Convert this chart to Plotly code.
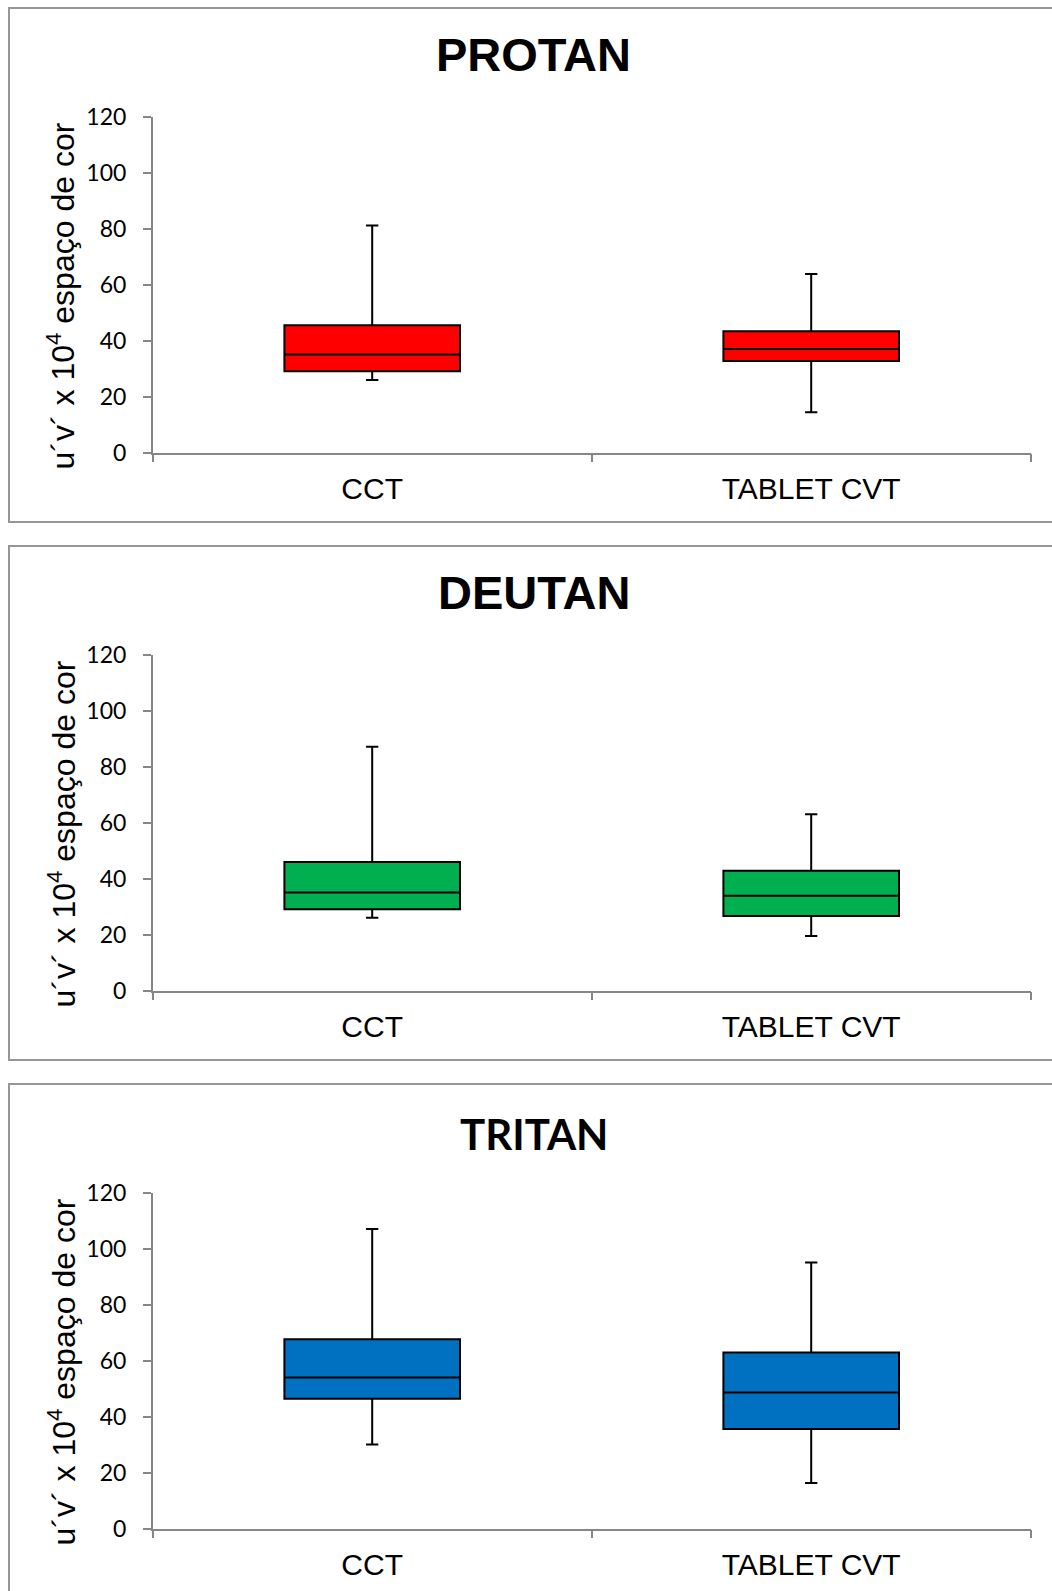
import plotly.graph_objects as go

# Categories and box statistics (u'v' x 10^4) for each deficiency type
categories = ["CCT", "TABLET CVT"]
panel_titles = ["PROTAN", "DEUTAN", "TRITAN"]
fill_colors = ["#FF0000", "#00B050", "#0070C0"]

protan_low = [25.9, 14.4]
protan_q1 = [29.0, 32.7]
protan_med = [35.0, 37.0]
protan_q3 = [45.5, 43.3]
protan_high = [81.1, 63.8]

deutan_low = [26.0, 19.5]
deutan_q1 = [29.0, 26.6]
deutan_med = [35.0, 33.9]
deutan_q3 = [45.9, 42.8]
deutan_high = [87.1, 63.0]

tritan_low = [30.0, 16.3]
tritan_q1 = [46.4, 35.6]
tritan_med = [54.0, 48.6]
tritan_q3 = [67.6, 62.9]
tritan_high = [107.0, 95.1]

y_ticks = [0, 20, 40, 60, 80, 100, 120]
y_title = "u´v´ x 10<sup>4</sup> espaço de cor"

stats = [
    (protan_low, protan_q1, protan_med, protan_q3, protan_high),
    (deutan_low, deutan_q1, deutan_med, deutan_q3, deutan_high),
    (tritan_low, tritan_q1, tritan_med, tritan_q3, tritan_high),
]

W, H = 1052, 1591
PANEL_STEP = 538


def px_x(p):
    return p / W


def px_y(p):
    return 1 - p / H


fig = go.Figure()
layout_axes = {}
annotations = []
shapes = []

for k in range(3):
    off = PANEL_STEP * k
    lo, q1, med, q3, hi = stats[k]
    xa = "x" if k == 0 else f"x{k + 1}"
    ya = "y" if k == 0 else f"y{k + 1}"
    fig.add_trace(go.Box(
        x=categories,
        lowerfence=lo, q1=q1, median=med, q3=q3, upperfence=hi,
        fillcolor=fill_colors[k],
        line=dict(color="black", width=2),
        width=0.4,
        whiskerwidth=0.07,
        boxpoints=False,
        showlegend=False,
        xaxis=xa, yaxis=ya,
    ))

    xkey = "xaxis" if k == 0 else f"xaxis{k + 1}"
    ykey = "yaxis" if k == 0 else f"yaxis{k + 1}"
    layout_axes[xkey] = dict(
        domain=[px_x(152.7), px_x(1030.7)],
        anchor=ya,
        type="category",
        range=[-0.5, 1.5],
        tickson="boundaries",
        ticks="outside", ticklen=8, tickwidth=1.5, tickcolor="#868686",
        showline=True, linecolor="#868686", linewidth=1.5,
        showgrid=False, zeroline=False,
        ticklabelstandoff=9,
        tickfont=dict(family="Liberation Sans", size=30, color="black"),
    )
    layout_axes[ykey] = dict(
        domain=[px_y(452.5 + off), px_y(116.7 + off)],
        anchor=xa,
        range=[0, 120],
        tickvals=y_ticks,
        ticks="outside", ticklen=8, tickwidth=1.5, tickcolor="#868686",
        showline=True, linecolor="#868686", linewidth=1.5,
        showgrid=False, zeroline=False,
        ticklabelstandoff=12,
        tickfont=dict(family="Lato", size=23, color="black"),
    )

    # panel frame
    shapes.append(dict(
        type="rect", xref="paper", yref="paper",
        x0=px_x(9), x1=px_x(1070),
        y0=px_y(522 + off), y1=px_y(8 + off),
        line=dict(color="#969696", width=2),
        fillcolor="rgba(0,0,0,0)", layer="below",
    ))

    # panel title
    if k < 2:
        tfont = dict(family="Liberation Sans", size=47, color="black")
        ty = 55
    else:
        tfont = dict(family="Lato", size=42, color="black")
        ty = 58.3
    annotations.append(dict(
        text=f"<b>{panel_titles[k]}</b>", xref="paper", yref="paper",
        x=px_x(533.5), y=px_y(ty + off), xanchor="center", yanchor="middle",
        showarrow=False, font=tfont,
    ))

    # y axis title
    annotations.append(dict(
        text=y_title, xref="paper", yref="paper",
        x=px_x(61), y=px_y(296.5 + off), xanchor="center", yanchor="middle",
        textangle=-90, showarrow=False,
        font=dict(family="Liberation Sans", size=32, color="black"),
    ))

fig.update_layout(
    width=W, height=H, autosize=False,
    margin=dict(l=0, r=0, t=0, b=0, pad=0, autoexpand=False),
    paper_bgcolor="white", plot_bgcolor="white",
    annotations=annotations, shapes=shapes,
    **layout_axes,
)

fig.write_html("out.html")
